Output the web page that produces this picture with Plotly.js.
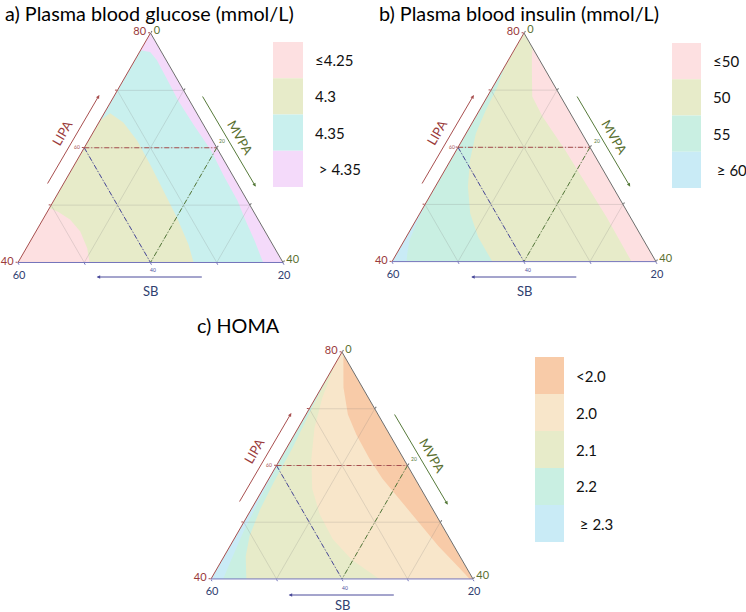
<!DOCTYPE html>
<html><head><meta charset="utf-8">
<script src="https://cdn.plot.ly/plotly-3.0.1.min.js"></script>
<style>html,body{margin:0;padding:0;background:#fff}#chart{width:746px;height:612px}</style>
</head><body><div id="chart"></div>
<script>
// ---------------- DATA ----------------
// Compositions in % of the day: LIPA (top), SB (bottom-left), MVPA (bottom-right); SB = 100 - LIPA - MVPA
const lipaTicks = [40, 50, 60, 70, 80];
const lipaTickText = ['40', '', '', '', '80'];
const sbTicks = [20, 30, 40, 50, 60];
const sbTickText = ['20', '', '', '', '60'];
const mvpaTicks = [0, 10, 20, 30, 40];
const mvpaTickText = ['0', '', '', '', '40'];
const refLIPA = 60, refSB = 40, refMVPA = 20;   // dash-dot reference lines

// a) Plasma blood glucose
const glucoseLabels = ['≤4.25', '4.3', '4.35', ' > 4.35'];
const glucoseB3LIPA = [77.0, 76.7, 75.3, 72.6, 68.2, 63.9, 59.5, 55.1, 50.7, 47.2, 43.7, 40.0]; // 4.35 | >4.35
const glucoseB3MVPA = [0, 1.6, 3.3, 5.9, 10.1, 14.6, 19.4, 23.5, 27.8, 30.8, 33.9, 37.0];
const glucoseB2LIPA = [64.7, 66.0, 64.4, 61.2, 57.1, 52.5, 47.8, 43.1, 40.0];               // 4.3 | 4.35
const glucoseB2MVPA = [0, 0.9, 3.7, 7.4, 11.4, 15.7, 20.1, 24.2, 26.5];
const glucoseB1LIPA = [49.5, 48.8, 47.5, 45.4, 42.5, 40.0];                                   // ≤4.25 | 4.3
const glucoseB1MVPA = [0, 1.7, 4.1, 6.7, 9.2, 10.8];

// b) Plasma blood insulin
const insulinLabels = ['≤50', '50', '55', ' ≥ 60'];
const insulinB1LIPA = [77.4, 76.2, 73.0, 68.9, 65.4, 59.5, 53.6, 47.8, 40.0];                // ≤50 | 50 (right side)
const insulinB1MVPA = [2.6, 3.1, 4.7, 6.8, 10.1, 16.5, 22.6, 28.6, 36.3];
const insulinB2LIPA = [74.4, 70.6, 66.5, 62.4, 57.7, 53.1, 48.4, 44.3, 41.3, 40.0];          // 50 | 55
const insulinB2MVPA = [0, 0.67, 0.96, 1.5, 2.95, 4.95, 7.65, 10.9, 13.9, 15.2];
const insulinB3LIPA = [50.7, 47.2, 43.7, 41.3, 40.0];                                         // 55 | ≥60
const insulinB3MVPA = [0, 0.3, 0.8, 1.65, 2.2];

// c) HOMA
const homaLabels = ['<2.0', '2.0', '2.1', '2.2', ' ≥ 2.3'];
const homaB1LIPA = [79.5, 78.5, 73.75, 69.0, 65.4, 61.25, 57.7, 54.1, 49.95, 45.8, 42.2, 40.0]; // <2.0 | 2.0 (right side)
const homaB1MVPA = [0.5, 0.96, 3.35, 6.4, 9.5, 13.55, 17.3, 21.7, 26.75, 31.8, 36.6, 39.5];
const homaB2LIPA = [78.0, 72.0, 66.6, 61.25, 55.9, 51.4, 47.0, 43.4, 40.0];                    // 2.0 | 2.1
const homaB2MVPA = [0, 1.0, 2.5, 4.7, 7.5, 10.9, 15.1, 19.8, 25.7];
const homaB3LIPA = [77.0, 70.8, 63.0, 57.1, 52.3, 47.6, 44.0, 40.0];                           // 2.1 | 2.2
const homaB3MVPA = [0, 0.3, 0.9, 1.05, 1.36, 2.1, 3.3, 5.4];
const homaB4LIPA = [63.3, 54.3, 48.3, 43.4, 40.0];                                             // 2.2 | ≥2.3
const homaB4MVPA = [0, 0.4, 0.8, 1.4, 1.85];

// ---------------- STYLE ----------------
const W = 746, H = 612;
const FONT = 'Lato, "Open Sans", sans-serif';
const C = {
  pink: '#fde0e1', olive: '#e7ebc9', cyan: '#c9f0ee', lavender: '#f4dafa',
  mint: '#c9efe2', blue: '#c9ebf6', orange: '#f8cba8', peach: '#f8e6ca',
  lipa: '#a84f4f', sb: '#4a4a9a', mvpa: '#567a3a',
  lipaTxt: '#9a3b3b', sbTxt: '#2f4070', mvpaTxt: '#5a7030',
  grid: 'rgba(120,120,120,0.2)'
};
const DASHDOT = '5px,2px,1px,2px';
const BL = [40, 0], BR = [40, 40];

function region(sub, lipa, mvpa, corners, color) {
  return {
    type: 'scatterternary', subplot: sub, mode: 'none', fill: 'toself', fillcolor: color,
    a: lipa.concat(corners.map(p => p[0])), c: mvpa.concat(corners.map(p => p[1])),
    hoverinfo: 'skip', showlegend: false
  };
}
function line(sub, a, c, color, dash, width) {
  return {
    type: 'scatterternary', subplot: sub, mode: 'lines', a: a, c: c,
    line: { color: color, width: width || 1, dash: dash || 'solid' },
    hoverinfo: 'skip', showlegend: false
  };
}
function overlays(sub) {
  const t = [];
  lipaTicks.slice(1, -1).forEach(v => t.push(line(sub, [v, v], [0, 80 - v], C.grid)));
  sbTicks.slice(1, -1).forEach(v => t.push(line(sub, [100 - v, 40], [0, 60 - v], C.grid)));
  mvpaTicks.slice(1, -1).forEach(v => t.push(line(sub, [80 - v, 40], [v, v], C.grid)));
  t.push(line(sub, [refLIPA, refLIPA], [0, 80 - refLIPA], C.lipa, DASHDOT));
  t.push(line(sub, [100 - refSB, 40], [0, 60 - refSB], C.sb, DASHDOT));
  t.push(line(sub, [80 - refMVPA, 40], [refMVPA, refMVPA], C.mvpa, DASHDOT));
  return t;
}

const data = [
  // a
  region('ternary', [80, 40, 40], [0, 0, 40], [], C.lavender),
  region('ternary', glucoseB3LIPA, glucoseB3MVPA, [BL], C.cyan),
  region('ternary', glucoseB2LIPA, glucoseB2MVPA, [BL], C.olive),
  region('ternary', glucoseB1LIPA, glucoseB1MVPA, [BL], C.pink),
  ...overlays('ternary'),
  // b
  region('ternary2', [80, 40, 40], [0, 0, 40], [], C.olive),
  region('ternary2', insulinB1LIPA, insulinB1MVPA, [BR], C.pink),
  region('ternary2', insulinB2LIPA, insulinB2MVPA, [BL], C.mint),
  region('ternary2', insulinB3LIPA, insulinB3MVPA, [BL], C.blue),
  ...overlays('ternary2'),
  // c
  region('ternary3', [80, 40, 40], [0, 0, 40], [], C.peach),
  region('ternary3', homaB1LIPA, homaB1MVPA, [BR], C.orange),
  region('ternary3', homaB2LIPA, homaB2MVPA, [BL], C.olive),
  region('ternary3', homaB3LIPA, homaB3MVPA, [BL], C.mint),
  region('ternary3', homaB4LIPA, homaB4MVPA, [BL], C.blue),
  ...overlays('ternary3')
];

function axis(min, vals, txt, lc, tc) {
  return {
    min: min, tickmode: 'array', tickvals: vals, ticktext: txt, ticks: 'outside', ticklen: 2,
    tickwidth: 1, tickcolor: lc, showline: true, linecolor: lc, linewidth: 1, showgrid: false,
    tickfont: { family: FONT, size: 11, color: tc }, title: { text: '' }, layer: 'above traces'
  };
}
function tern(x0, x1, yTop, yBot) {
  return {
    sum: 100, bgcolor: 'rgba(0,0,0,0)',
    domain: { x: [x0 / W, x1 / W], y: [1 - yBot / H, 1 - yTop / H] },
    aaxis: axis(40, lipaTicks, lipaTickText, C.lipa, C.lipaTxt),
    baxis: axis(20, sbTicks, sbTickText, '#7474bb', C.sbTxt),
    caxis: axis(0, mvpaTicks, mvpaTickText, '#6d6d6d', C.mvpaTxt)
  };
}

function txt(x, y, text, o) {
  return Object.assign({
    xref: 'paper', yref: 'paper', x: x / W, y: 1 - y / H, text: text, showarrow: false,
    xanchor: 'center', yanchor: 'middle', font: { family: FONT, size: 13, color: '#000' }
  }, o || {});
}
function arrow(x0, y0, x1, y1, color) {
  return {
    xref: 'paper', yref: 'paper', x: x1 / W, y: 1 - y1 / H, axref: 'pixel', ayref: 'pixel',
    ax: x0 - x1, ay: y0 - y1, text: '', showarrow: true, arrowhead: 2, arrowsize: 0.7,
    arrowwidth: 1, arrowcolor: color, standoff: 0, startstandoff: 0
  };
}
function decorations(dx, dy, sbY) {
  return [
    txt(62 + dx, 133 + dy, 'LIPA', { textangle: -60, font: { family: FONT, size: 13, color: C.lipaTxt } }),
    arrow(46.7 + dx, 185 + dy, 99.3 + dx, 95 + dy, C.lipa),
    txt(240 + dx, 137 + dy, 'MVPA', { textangle: 60, font: { family: FONT, size: 13, color: C.mvpaTxt } }),
    arrow(201.7 + dx, 95 + dy, 255.7 + dx, 186.7 + dy, C.mvpa),
    txt(150 + dx, sbY, 'SB', { font: { family: FONT, size: 13, color: C.sbTxt } }),
    arrow(203.3 + dx, 277 + dy, 96.7 + dx, 277 + dy, C.sb),
    txt(77 + dx, 147 + dy, String(refLIPA), { font: { family: FONT, size: 5, color: C.lipa } }),
    txt(222 + dx, 141 + dy, String(refMVPA), { font: { family: FONT, size: 5, color: C.mvpa } }),
    txt(153 + dx, 270 + dy, String(refSB), { font: { family: FONT, size: 5, color: C.sb } })
  ];
}
function legend(x0, x1, yTop, h, colors, labels, lx) {
  const shapes = colors.map((c, i) => ({
    type: 'rect', xref: 'paper', yref: 'paper', x0: x0 / W, x1: x1 / W,
    y0: 1 - (yTop + i * h) / H, y1: 1 - (yTop + (i + 1) * h) / H, fillcolor: c, line: { width: 0 }
  }));
  const ann = labels.map((t, i) => txt(lx, yTop + (i + 0.5) * h, t,
    { xanchor: 'left', font: { family: FONT, size: 15, color: '#111' } }));
  return { shapes, ann };
}

const legA = legend(273, 303, 42, 36.25, [C.pink, C.olive, C.cyan, C.lavender], glucoseLabels, 313);
const legB = legend(672, 701, 43, 36.25, [C.pink, C.olive, C.mint, C.blue], insulinLabels, 711);
const legC = legend(535, 564, 357, 37, [C.orange, C.peach, C.olive, C.mint, C.blue], homaLabels, 574);

const TITLE_FONT = { family: FONT, size: 19.8, color: '#000' };
const annotations = [
  txt(3, 13, 'a) Plasma blood glucose (mmol/L)', { xanchor: 'left', font: TITLE_FONT }),
  txt(377, 13, 'b) Plasma blood insulin (mmol/L)', { xanchor: 'left', font: TITLE_FONT }),
  txt(195, 325, 'c) HOMA', { xanchor: 'left', font: TITLE_FONT }),
  ...decorations(0, 0, 291),
  ...decorations(374.5, 0, 291),
  ...decorations(192, 318, 605),
  ...legA.ann, ...legB.ann, ...legC.ann
];

const layout = {
  width: W, height: H, margin: { l: 0, r: 0, t: 0, b: 0 },
  paper_bgcolor: '#fff', showlegend: false, font: { family: FONT },
  ternary: tern(18, 283, 33, 262.5),
  ternary2: tern(392, 656, 33, 261.6),
  ternary3: tern(211, 473, 352, 579),
  shapes: [...legA.shapes, ...legB.shapes, ...legC.shapes],
  annotations: annotations
};

Plotly.newPlot('chart', data, layout, { displayModeBar: false, staticPlot: true });
</script></body></html>
